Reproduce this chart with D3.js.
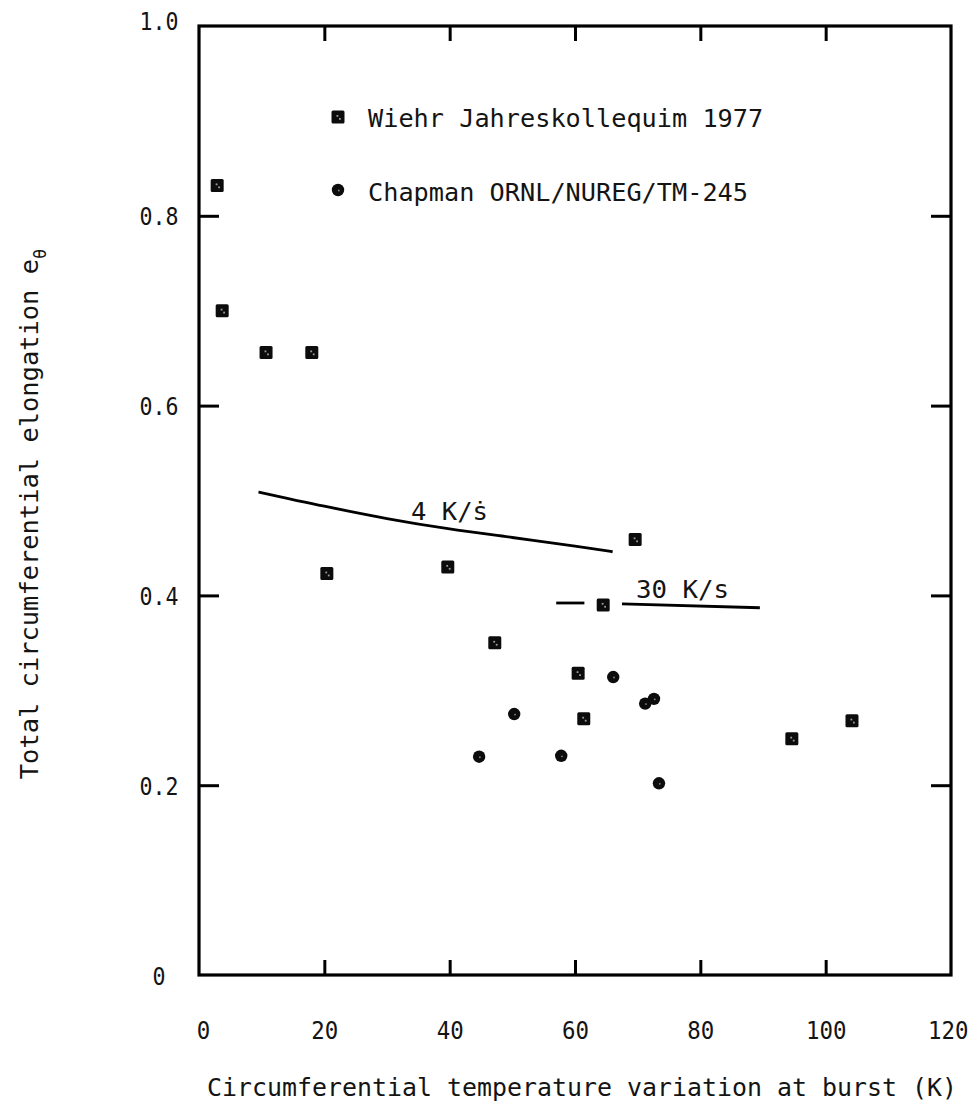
<!DOCTYPE html>
<html><head><meta charset="utf-8">
<script src="https://cdn.jsdelivr.net/npm/d3@7"></script>
<style>body{margin:0;background:#fff}</style>
</head><body>
<svg id="c" width="979" height="1108"></svg>
<script>
// ---- data ----
const xTicks = [0, 20, 40, 60, 80, 100, 120];
const xTickLabels = ["0", "20", "40", "60", "80", "100", "120"];
const yTicks = [0, 0.2, 0.4, 0.6, 0.8, 1.0];
const yTickLabels = ["0", "0.2", "0.4", "0.6", "0.8", "1.0"];
const wiehrX = [2.9, 3.7, 10.7, 18.0, 20.4, 39.7, 47.2, 69.6, 64.5, 60.5, 61.4, 94.6, 104.2];
const wiehrY = [0.832, 0.700, 0.656, 0.656, 0.423, 0.430, 0.350, 0.459, 0.390, 0.318, 0.270, 0.249, 0.268];
const chapX = [44.7, 50.3, 57.8, 66.1, 71.2, 72.6, 73.4];
const chapY = [0.230, 0.275, 0.231, 0.314, 0.286, 0.291, 0.202];
const line4X = [9.5, 20, 30, 40, 50, 60, 66];
const line4Y = [0.509, 0.494, 0.481, 0.470, 0.461, 0.452, 0.446];
const line30aX = [57, 61.5], line30aY = [0.392, 0.392];
const line30bX = [67.5, 89.5], line30bY = [0.391, 0.387];
const legendLabels = ["Wiehr Jahreskollequim 1977", "Chapman ORNL/NUREG/TM-245"];
const xTitle = "Circumferential temperature variation at burst (K)";
const yTitle = "Total circumferential elongation e";
const label4 = "4 K/ṡ", label30 = "30 K/s";

// ---- drawing ----
const svg = d3.select("#c");
const FONT = "'DejaVu Sans Mono', monospace";
const INK = "#141414";
const x = d3.scaleLinear().domain([0, 120]).range([199, 951]);
const y = d3.scaleLinear().domain([0, 1]).range([975, 26]);

function fitText(sel, pitch) {
  sel.each(function () {
    const t = d3.select(this).text();
    d3.select(this).attr("textLength", t.length * pitch).attr("lengthAdjust", "spacingAndGlyphs");
  });
}

// axes (ticks inward)
const inner = xTicks.slice(1, -1), innerY = yTicks.slice(1, -1);
const gB = svg.append("g").attr("transform", `translate(0,${y(0)})`)
  .call(d3.axisBottom(x).tickValues(xTicks).tickSizeInner(-15).tickSizeOuter(0).tickPadding(46)
    .tickFormat((d, i) => xTickLabels[i]));
const gT = svg.append("g").attr("transform", `translate(0,${y(1)})`)
  .call(d3.axisTop(x).tickValues(inner).tickSizeInner(-15).tickSizeOuter(0).tickFormat(""));
const gL = svg.append("g").attr("transform", `translate(${x(0)},0)`)
  .call(d3.axisLeft(y).tickValues(yTicks).tickSizeInner(-20).tickSizeOuter(0).tickPadding(40)
    .tickFormat((d, i) => yTickLabels[i]));
const gR = svg.append("g").attr("transform", `translate(${x(120)},0)`)
  .call(d3.axisRight(y).tickValues(innerY).tickSizeInner(-20).tickSizeOuter(0).tickFormat(""));
[gB, gT, gL, gR].forEach(g => {
  g.select(".domain").remove();
  g.selectAll(".tick line").attr("stroke", "#000").attr("stroke-width", 3);
  g.selectAll("text").attr("font-family", FONT).attr("font-size", 25).attr("fill", INK);
});
gB.selectAll(".tick line").filter(d => d === 0 || d === 120).remove();
gL.selectAll(".tick line").filter(d => d === 0 || d === 1).remove();
gB.selectAll("text").attr("dy", "0.71em");
gB.selectAll("text").filter(d => d === 0).attr("x", 4);
gB.selectAll("text").filter(d => d === 120).attr("text-anchor", "end").attr("x", 17);
fitText(gB.selectAll("text"), 13.5);
gL.selectAll("text").attr("text-anchor", "middle").attr("x", -40).attr("dy", "0.36em");
gL.selectAll("text").filter(d => d === 1).attr("dy", "0.12em");
fitText(gL.selectAll("text"), 13);

// frame
svg.append("rect").attr("x", x(0)).attr("y", y(1))
  .attr("width", x(120) - x(0)).attr("height", y(0) - y(1))
  .attr("fill", "none").attr("stroke", "#000").attr("stroke-width", 3.2);

// axis titles
svg.append("text").attr("x", (x(0) + 965) / 2).attr("y", 1096).attr("text-anchor", "middle")
  .attr("font-family", FONT).attr("font-size", 24.5).attr("fill", INK).text(xTitle)
  .call(s => fitText(s, 15));
const yt = svg.append("text").attr("transform", "translate(38,514) rotate(-90)")
  .attr("text-anchor", "middle").attr("font-family", FONT).attr("font-size", 25).attr("fill", INK);
yt.append("tspan").text(yTitle).attr("textLength", yTitle.length * 15.3).attr("lengthAdjust", "spacingAndGlyphs");
yt.append("tspan").attr("dy", 8).attr("font-size", 17).text("θ");

// curves
const lineGen = d3.line().x(d => x(d[0])).y(d => y(d[1])).curve(d3.curveMonotoneX);
function drawLine(xs, ys) {
  svg.append("path").datum(xs.map((v, i) => [v, ys[i]])).attr("d", lineGen)
    .attr("fill", "none").attr("stroke", "#000").attr("stroke-width", 2.8);
}
drawLine(line4X, line4Y);
drawLine(line30aX, line30aY);
drawLine(line30bX, line30bY);

svg.append("text").attr("x", 411).attr("y", 520).attr("font-family", FONT).attr("font-size", 25)
  .attr("fill", INK).text(label4).call(s => fitText(s, 15.4));
svg.append("text").attr("x", 636).attr("y", 598).attr("font-family", FONT).attr("font-size", 25)
  .attr("fill", INK).text(label30).call(s => fitText(s, 15.5));

// markers
function square(g, cx, cy) {
  g.append("rect").attr("x", cx - 6.5).attr("y", cy - 6.5).attr("width", 13).attr("height", 13)
    .attr("rx", 1.5).attr("fill", "#0c0c0c");
  g.append("rect").attr("x", cx - 1.5).attr("y", cy - 2).attr("width", 1.8).attr("height", 1.8).attr("fill", "#9a9a9a");
  g.append("rect").attr("x", cx + 1).attr("y", cy + 1).attr("width", 1.8).attr("height", 1.8).attr("fill", "#9a9a9a");
}
function circle(g, cx, cy) {
  g.append("circle").attr("cx", cx).attr("cy", cy).attr("r", 6.2).attr("fill", "#0c0c0c");
  g.append("circle").attr("cx", cx + 0.8).attr("cy", cy + 0.5).attr("r", 0.9).attr("fill", "#888");
}
const gm = svg.append("g");
wiehrX.forEach((v, i) => square(gm, x(v), y(wiehrY[i])));
chapX.forEach((v, i) => circle(gm, x(v), y(chapY[i])));

// legend
const lg = svg.append("g");
square(lg, 338, 117);
circle(lg, 338, 190);
lg.selectAll("text").data(legendLabels).join("text")
  .attr("x", 368).attr("y", (d, i) => 127 + i * 74)
  .attr("font-family", FONT).attr("font-size", 25).attr("fill", INK)
  .text(d => d).call(s => fitText(s, 15.2));
</script>
</body></html>
